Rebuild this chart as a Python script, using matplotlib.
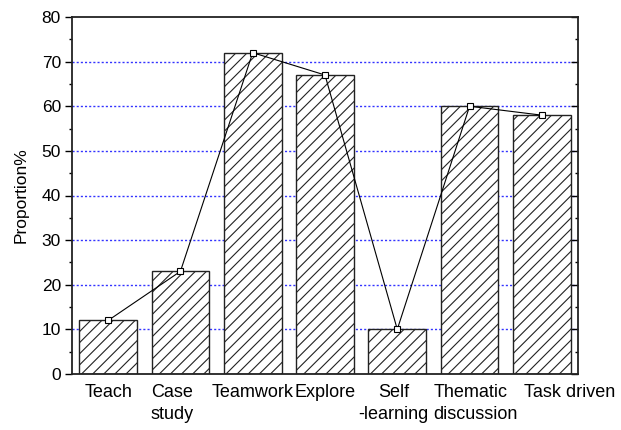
import numpy as np
import matplotlib
matplotlib.use("Agg")
from matplotlib import pyplot as plt
from matplotlib.ticker import MultipleLocator
from matplotlib.transforms import ScaledTranslation

categories = ["Teach", "Case\nstudy", "Teamwork", "Explore", "Self\n-learning",
              "Thematic\ndiscussion", "Task driven"]
proportions = [12, 23, 72, 67, 10, 60, 58]

plt.rcParams["font.family"] = ["Liberation Sans", "DejaVu Sans"]
plt.rcParams["hatch.linewidth"] = 0.8

fig = plt.figure(figsize=(6.21, 4.30), dpi=100)
ax = fig.add_axes([72 / 621, 1 - 374 / 430, 506 / 621, 357 / 430])

x = np.arange(len(categories))

# dotted blue guide lines behind the bars
for y in range(10, 80, 10):
    ax.axhline(y, color="#3333ff", linestyle=(0, (1.5, 1.5)), linewidth=1.0, zorder=1)

ax.bar(x, proportions, width=0.8, color="white", edgecolor="#222222",
       linewidth=1.0, hatch="///", zorder=2)
ax.plot(x, proportions, color="black", linewidth=0.8, marker="s", markersize=5,
        markerfacecolor="white", markeredgecolor="black", markeredgewidth=0.8, zorder=3)

ax.set_xlim(-0.5, 6.5)
ax.set_ylim(0, 80)
ax.yaxis.set_major_locator(MultipleLocator(10))
ax.yaxis.set_minor_locator(MultipleLocator(5))
ax.set_xticks(x)
ax.set_xticklabels(categories, fontsize=13, linespacing=1.4)
ax.tick_params(axis="x", length=0, pad=7)
ax.tick_params(axis="y", which="major", direction="out", length=5, width=1,
               labelsize=12.5, right=True, pad=3)
ax.tick_params(axis="y", which="minor", direction="out", length=2.5, width=1, right=True)

# right side ticks point inward
for t in ax.yaxis.get_major_ticks() + ax.yaxis.get_minor_ticks():
    t.tick2line.set_marker(matplotlib.lines.TICKLEFT)

# nudge labels like the original
offsets = {1: -8, 4: -4, 5: 6, 6: 28}
for i, lab in enumerate(ax.get_xticklabels()):
    if i in (1, 5):
        lab.set_multialignment("left")
    if i in offsets:
        lab.set_transform(lab.get_transform() +
                          ScaledTranslation(offsets[i] / 100, 0, fig.dpi_scale_trans))

for side in ["left", "right", "top", "bottom"]:
    ax.spines[side].set_linewidth(1.3)
    ax.spines[side].set_color("#222222")

ax.set_ylabel("Proportion%", fontsize=12.5, labelpad=9)

fig.savefig("out.png", dpi=100)
